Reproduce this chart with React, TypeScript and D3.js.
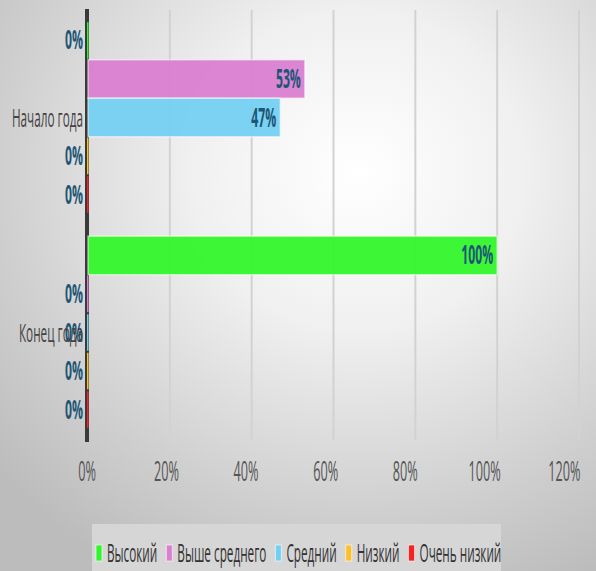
import React from "react";
import * as d3 from "d3";

const categories = ["Начало года", "Конец года"];
const seriesNames = ["Высокий", "Выше среднего", "Средний", "Низкий", "Очень низкий"];
const seriesColors = ["#33f52b", "#da80d1", "#74d0f1", "#fcc127", "#f82222"];
// values[series][category]
const vHigh = [0, 100];
const vAbove = [53, 0];
const vMid = [47, 0];
const vLow = [0, 0];
const vVeryLow = [0, 0];
const seriesValues = [vHigh, vAbove, vMid, vLow, vVeryLow];
const xTicks = [0, 20, 40, 60, 80, 100, 120];

const W = 596;
const H = 571;
const FONT = "'Open Sans', sans-serif";
const SX = 0.47;

function measure(text: string, size: number, weight = "normal") {
  const c = document.createElement("canvas");
  const ctx = c.getContext("2d")!;
  ctx.font = `${weight} ${size}px 'Open Sans'`;
  return ctx.measureText(text).width;
}

function SText(props: { x: number; y: number; anchor?: string; size: number; weight?: string; fill: string; children: string }) {
  const { x, y, anchor = "start", size, weight = "normal", fill, children } = props;
  return (
    <text
      transform={`translate(${x},${y}) scale(${SX},1)`}
      textAnchor={anchor}
      fontFamily={FONT}
      fontSize={size}
      fontWeight={weight}
      fill={fill}
    >
      {children}
    </text>
  );
}

export default function App() {
  const x = d3.scaleLinear().domain([0, 120]).range([88, 579]);
  const y0 = d3.scaleBand<string>().domain(categories).range([10, 440]);
  const y1 = d3
    .scaleBand<string>()
    .domain(seriesNames)
    .range([0, y0.bandwidth()])
    .paddingInner(0)
    .paddingOuter(0.29);
  const x0 = x(0);

  // legend layout
  const legendSize = 25;
  let lx = 96;
  const legendItems = seriesNames.map((name, i) => {
    const tw = measure(name, legendSize) * SX;
    const item = { name, color: seriesColors[i], x: lx, tw };
    lx += 6 + 5 + tw + 9;
    return item;
  });

  return (
    <svg width={W} height={H} style={{ position: "absolute", left: 0, top: 0 }}>
      <defs>
        <radialGradient id="bg" cx="0.6" cy="0.3" r="0.8" gradientUnits="objectBoundingBox">
          <stop offset="0" stopColor="#ffffff" />
          <stop offset="0.35" stopColor="#f0f0f0" />
          <stop offset="0.75" stopColor="#cfcfcf" />
          <stop offset="1" stopColor="#bcbcbc" />
        </radialGradient>
      </defs>
      <rect x={0} y={0} width={W} height={H} fill="url(#bg)" />

      {/* grid */}
      {xTicks.slice(1).map((t) => (
        <line key={t} x1={x(t)} x2={x(t)} y1={10} y2={440} stroke="#d2d2d2" strokeWidth={2} />
      ))}

      {/* axis line */}
      <line x1={x0 - 1} x2={x0 - 1} y1={9} y2={442} stroke="#3a3a3a" strokeWidth={4} />

      {/* bars */}
      {categories.map((cat, ci) =>
        seriesNames.map((s, si) => {
          const v = seriesValues[si][ci];
          const by = (y0(cat) ?? 0) + (y1(s) ?? 0);
          const bh = y1.bandwidth();
          const w = x(v) - x0;
          return (
            <g key={cat + s}>
              {v > 0 ? (
                <rect
                  x={x0}
                  y={by}
                  width={w}
                  height={bh}
                  fill={seriesColors[si]}
                  fillOpacity={0.95}
                  stroke="rgba(255,255,255,0.55)"
                  strokeWidth={1.5}
                />
              ) : (
                <rect x={x0 - 1} y={by + 1} width={1.5} height={bh - 2} fill={seriesColors[si]} />
              )}
            </g>
          );
        })
      )}

      {/* data labels */}
      {categories.map((cat, ci) =>
        seriesNames.map((s, si) => {
          const v = seriesValues[si][ci];
          const cy = (y0(cat) ?? 0) + (y1(s) ?? 0) + y1.bandwidth() / 2;
          const lxp = v > 0 ? x(v) - 4 : x0 - 5;
          return (
            <SText key={"l" + cat + s} x={lxp} y={cy + 9} anchor="end" size={26} weight="bold" fill="#1c5676">
              {`${v}%`}
            </SText>
          );
        })
      )}

      {/* category labels */}
      {categories.map((cat) => (
        <SText key={"c" + cat} x={x0 - 5} y={(y0(cat) ?? 0) + y0.bandwidth() / 2 + 9} anchor="end" size={25} fill="#444">
          {cat}
        </SText>
      ))}

      {/* x tick labels */}
      {xTicks.map((t) => (
        <SText key={"t" + t} x={x0 - 1 + (x(t) - x0) * 0.972} y={481} anchor="middle" size={27} fill="#555">
          {`${t}%`}
        </SText>
      ))}

      {/* legend */}
      <rect x={92} y={524} width={409} height={50} fill="#d6d6d6" />
      {legendItems.map((it) => (
        <g key={"lg" + it.name}>
          <rect x={it.x} y={545} width={6} height={16} fill={it.color} stroke="rgba(255,255,255,0.6)" strokeWidth={1} />
          <SText x={it.x + 11} y={562} size={legendSize} fill="#333">
            {it.name}
          </SText>
        </g>
      ))}
    </svg>
  );
}
